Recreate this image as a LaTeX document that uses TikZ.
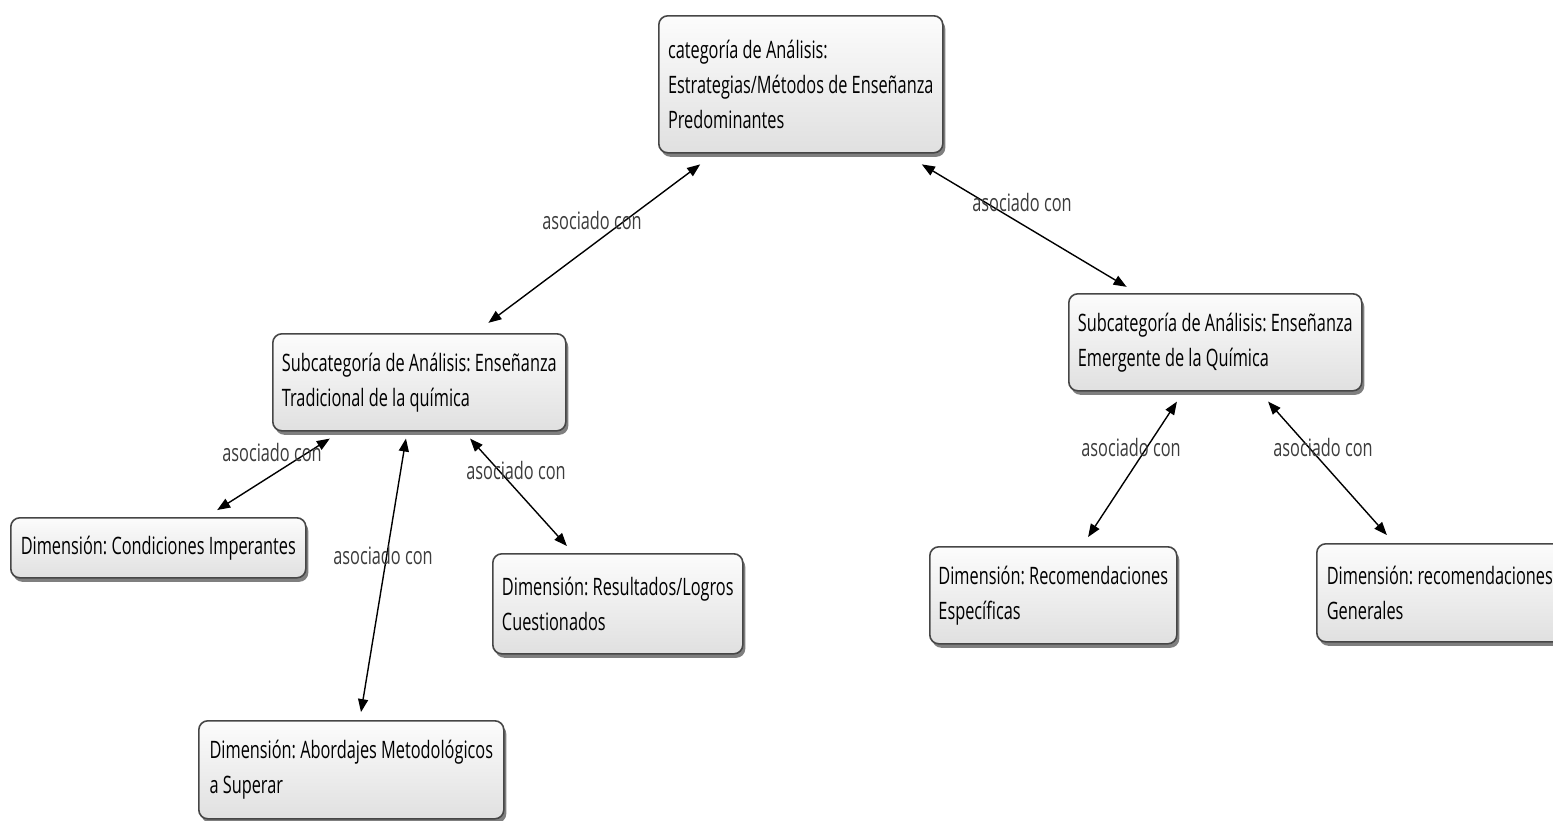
\documentclass[tikz,border=0pt]{standalone}
\usepackage{fontspec}
\setmainfont[FakeStretch=0.68]{Open Sans}
\usetikzlibrary{arrows.meta,shadows}
\definecolor{boxtop}{RGB}{252,252,252}
\definecolor{boxbot}{RGB}{224,224,224}
\definecolor{boxline}{RGB}{70,70,70}
\definecolor{labeltext}{RGB}{60,60,60}
\frenchspacing
\begin{document}
\begin{tikzpicture}[x=1pt,y=-1pt,
  concept/.style={draw=boxline, line width=1.6pt, rounded corners=9pt,
    top color=boxtop, bottom color=boxbot,
    drop shadow={shadow xshift=2.5pt, shadow yshift=-4pt, fill=black, opacity=0.5},
    anchor=north west, align=left, inner xsep=6pt, inner ysep=0pt,
    execute at begin node={\spaceskip=0pt\xspaceskip=0pt\relax},
    font=\fontsize{24}{35}\selectfont, text=black},
  link/.style={line width=1.4pt, black, {Triangle[length=13pt,width=10pt]}-{Triangle[length=13pt,width=10pt]}},
  linklabel/.style={font=\fontsize{24}{28}\selectfont, text=labeltext, inner sep=0pt}]
\useasboundingbox (0,0) rectangle (1553,820);
\fill[white] (0,0) rectangle (1553,820);

% concepts
\node[concept, minimum width=284pt, minimum height=137pt] (top) at (658,15)
  {categoría de Análisis:\\Estrategias/Métodos de Enseñanza\\Predominantes};
\node[concept, minimum width=293pt, minimum height=97pt] (lsub) at (272,333)
  {Subcategoría de Análisis: Enseñanza\\Tradicional de la química};
\node[concept, minimum width=293pt, minimum height=97pt] (rsub) at (1068,293)
  {Subcategoría de Análisis: Enseñanza\\Emergente de la Química};
\node[concept, minimum width=295pt, minimum height=60pt] (cond) at (10,517)
  {Dimensión: Condiciones Imperantes};
\node[concept, minimum width=305pt, minimum height=98pt] (abord) at (198,720)
  {Dimensión: Abordajes Metodológicos\\a Superar};
\node[concept, minimum width=250pt, minimum height=100pt] (result) at (492,553)
  {Dimensión: Resultados/Logros\\Cuestionados};
\node[concept, minimum width=247pt, minimum height=97pt] (espec) at (929,546)
  {Dimensión: Recomendaciones\\Específicas};
\node[concept, minimum width=246pt, minimum height=98pt] (gen) at (1316,543)
  {Dimensión: recomendaciones\\Generales};

% links
\draw[link, shorten <=18pt, shorten >=17pt] ([xshift=56.6pt]top.south west) -- ([xshift=202.8pt]lsub.north west);
\draw[link, shorten <=21pt, shorten >=12pt] ([xshift=245.8pt]top.south west) -- ([xshift=68.9pt]rsub.north west);
\draw[link, shorten <=13pt, shorten >=13pt] ([xshift=68.8pt]lsub.south west) -- ([xshift=196.2pt]cond.north west);
\draw[link, shorten <=7pt, shorten >=8pt] ([xshift=135.1pt]lsub.south west) -- ([xshift=161.7pt]abord.north west);
\draw[link, shorten <=9.4pt, shorten >=9.4pt] ([xshift=191.8pt]lsub.south west) -- ([xshift=81.2pt]result.north west);
\draw[link, shorten <=12pt, shorten >=10.7pt] ([xshift=115.5pt]rsub.south west) -- ([xshift=153.2pt]espec.north west);
\draw[link, shorten <=13.3pt, shorten >=10.7pt] ([xshift=191.2pt]rsub.south west) -- ([xshift=78pt]gen.north west);

% link labels
\node[linklabel] (l1) at (592,220) {asociado con};
\node[linklabel] (l2) at (1022,202) {asociado con};
\node[linklabel] (l3) at (272,452) {asociado con};
\node[linklabel] (l4) at (383,555) {asociado con};
\node[linklabel] (l5) at (516,470) {asociado con};
\node[linklabel] (l6) at (1131,447) {asociado con};
\node[linklabel] (l7) at (1323,447) {asociado con};
\end{tikzpicture}
\end{document}
